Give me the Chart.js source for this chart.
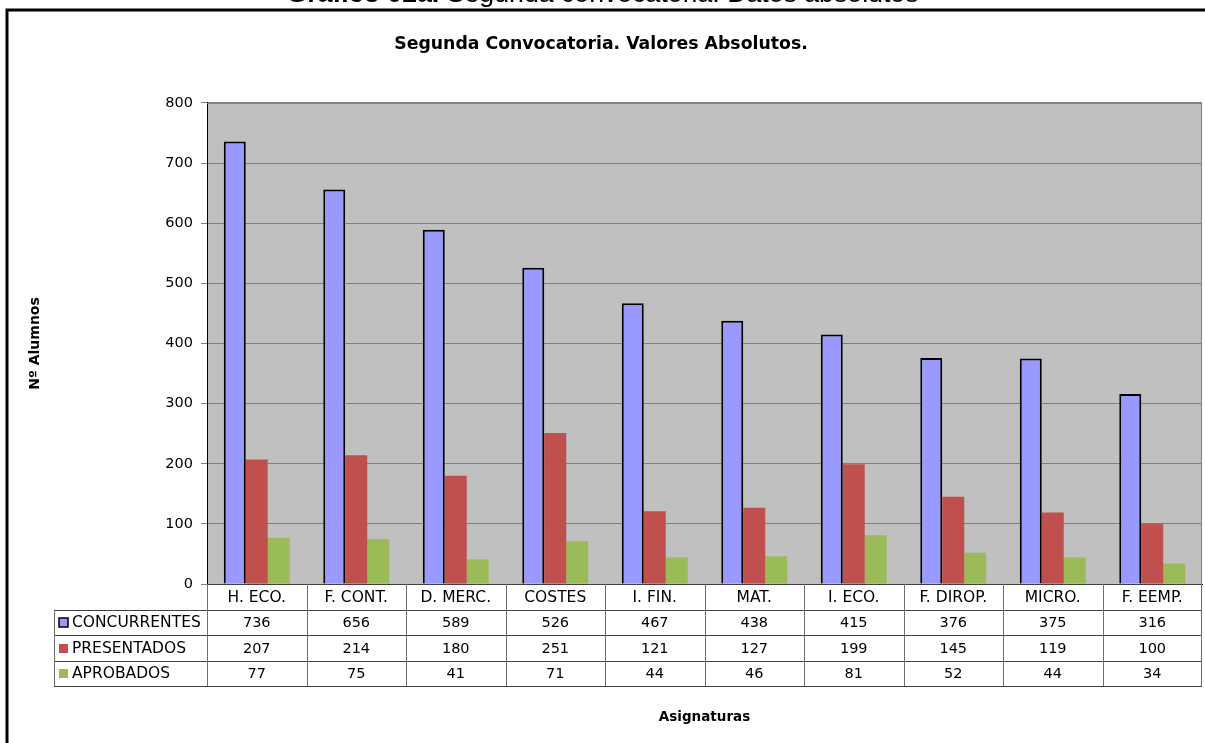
<!DOCTYPE html>
<html>
<head>
<meta charset="utf-8">
<script src="https://cdn.jsdelivr.net/npm/chart.js@4/dist/chart.umd.min.js"></script>
<style>
  body { margin: 0; background: #fff; overflow: hidden; }
  #wrap { position: relative; width: 1205px; height: 743px; overflow: hidden; }
  #caption {
    position: absolute; top: -20px; left: 0; width: 1205px; text-align: center;
    font-family: "Liberation Sans", Arial, sans-serif; font-size: 26.7px; line-height: 26px; color: #000;
    z-index: 2; white-space: nowrap;
  }
  canvas { position: absolute; left: 0; top: 0; }
</style>
</head>
<body>
<div id="wrap">
  <div id="caption"><b>Gráfico 02a.</b> Segunda convocatoria: Datos absolutos</div>
  <canvas id="grafico" width="1205" height="743"></canvas>
</div>
<script>
// datos
var asignaturas = ['H. ECO.', 'F. CONT.', 'D. MERC.', 'COSTES', 'I. FIN.', 'MAT.', 'I. ECO.', 'F. DIROP.', 'MICRO.', 'F. EEMP.'];
var concurrentes = [736, 656, 589, 526, 467, 438, 415, 376, 375, 316];
var presentados = [207, 214, 180, 251, 121, 127, 199, 145, 119, 100];
var aprobados = [77, 75, 41, 71, 44, 46, 81, 52, 44, 34];
var ticksY = [0, 100, 200, 300, 400, 500, 600, 700, 800];

var fuente = '"DejaVu Sans", sans-serif';

// fondo gris del area de trazado + marco exterior
var fondoPlugin = {
  id: 'fondo',
  beforeDraw: function (chart) {
    var c = chart.ctx, a = chart.chartArea;
    c.save();
    c.fillStyle = '#fff';
    c.fillRect(0, 0, chart.width, chart.height);
    c.fillStyle = '#C0C0C0';
    c.fillRect(a.left, a.top, a.right - a.left, a.bottom - a.top);
    c.strokeStyle = '#000';
    c.lineWidth = 3;
    c.beginPath();
    c.moveTo(7, chart.height);
    c.lineTo(7, 10);
    c.lineTo(chart.width, 10);
    c.stroke();
    c.restore();
  },
  afterDraw: function (chart) {
    var c = chart.ctx, a = chart.chartArea;
    c.save();
    c.strokeStyle = '#808080';
    c.lineWidth = 1;
    c.beginPath();
    c.moveTo(a.left, a.top + 0.5);
    c.lineTo(a.right - 0.5, a.top + 0.5);
    c.lineTo(a.right - 0.5, a.bottom);
    c.stroke();
    c.restore();
  }
};

// tabla de datos bajo el grafico
var tablaPlugin = {
  id: 'tabla',
  afterDraw: function (chart) {
    var c = chart.ctx, x = chart.scales.x, a = chart.chartArea;
    var n = asignaturas.length;
    var ancho = (a.right - a.left) / n;
    var top = a.bottom, fila = 25.5;
    var izq = 54;
    var series = chart.data.datasets;
    c.save();
    c.lineWidth = 1;
    // horizontales
    c.strokeStyle = '#404040';
    c.beginPath();
    c.moveTo(a.left, top + 0.5); c.lineTo(a.right, top + 0.5);
    for (var r = 1; r <= 4; r++) {
      var y = Math.round(top + r * fila) + 0.5;
      c.moveTo(izq, y); c.lineTo(a.right, y);
    }
    c.stroke();
    // verticales
    c.strokeStyle = '#707070';
    c.beginPath();
    c.moveTo(izq + 0.5, top + fila); c.lineTo(izq + 0.5, top + 4 * fila);
    for (var i = 0; i <= n; i++) {
      var xv = Math.round(a.left + i * ancho) + (i === n ? -0.5 : 0.5);
      c.moveTo(xv, top); c.lineTo(xv, top + 4 * fila);
    }
    c.stroke();

    c.fillStyle = '#000';
    c.textBaseline = 'middle';
    c.textAlign = 'center';
    for (var i = 0; i < n; i++) {
      var cx = x.getPixelForValue(i);
      c.font = '15.5px ' + fuente;
      c.fillText(asignaturas[i], cx, top + fila / 2 + 1);
      c.font = '14.5px ' + fuente;
      for (var s = 0; s < series.length; s++) {
        c.fillText(series[s].data[i], cx, top + (s + 1.5) * fila + 1);
      }
    }
    c.textAlign = 'left';
    c.font = '15.5px ' + fuente;
    for (var s = 0; s < series.length; s++) {
      var yc = top + (s + 1.5) * fila;
      c.fillStyle = series[s].backgroundColor;
      c.fillRect(59, Math.round(yc) - 4, 9, 9);
      if (s === 0) {
        c.strokeStyle = '#000';
        c.lineWidth = 1.5;
        c.strokeRect(59, Math.round(yc) - 4, 9, 9);
      }
      c.fillStyle = '#000';
      c.fillText(series[s].label, 72, yc + 1);
    }
    c.restore();
  }
};

var ctx = document.getElementById('grafico').getContext('2d');

var data = {
  labels: asignaturas,
  datasets: [{
    label: 'CONCURRENTES',
    data: concurrentes,
    backgroundColor: '#9999FF',
    borderColor: '#000',
    borderWidth: 2
  }, {
    label: 'PRESENTADOS',
    data: presentados,
    backgroundColor: '#C0504D'
  }, {
    label: 'APROBADOS',
    data: aprobados,
    backgroundColor: '#9BBB59'
  }]
};

var options = {
  responsive: false,
  animation: false,
  layout: { padding: { left: 0, right: 3, top: 0, bottom: 0 } },
  datasets: { bar: { categoryPercentage: 0.663, barPercentage: 1 } },
  plugins: {
    legend: { display: false },
    tooltip: { enabled: false },
    title: {
      display: true,
      text: 'Segunda Convocatoria. Valores Absolutos.',
      color: '#000',
      font: { family: fuente, size: 17.3, weight: 'bold', lineHeight: 1.2 },
      padding: { top: 34.6, bottom: 47.6 }
    }
  },
  scales: {
    x: {
      ticks: { display: false },
      grid: { display: false, drawTicks: false },
      border: { color: '#000', width: 1 },
      title: {
        display: true,
        text: 'Asignaturas',
        color: '#000',
        font: { family: fuente, size: 13.5, weight: 'bold', lineHeight: 1.2 },
        padding: { top: 0, bottom: 17 }
      },
      afterFit: function (scale) { scale.height = 159; }
    },
    y: {
      min: 0,
      max: 800,
      afterBuildTicks: function (scale) {
        scale.ticks = ticksY.map(function (v) { return { value: v }; });
      },
      ticks: { color: '#000', padding: 8, font: { family: fuente, size: 14.5 } },
      grid: { color: '#808080', tickColor: '#808080', tickLength: 6 },
      border: { color: '#000', width: 1 },
      title: {
        display: true,
        text: 'Nº Alumnos',
        color: '#000',
        font: { family: fuente, size: 14, weight: 'bold', lineHeight: 1.2 },
        padding: { top: 27, bottom: 0 }
      },
      afterFit: function (scale) { scale.width = 207; }
    }
  }
};

var grafico = new Chart(ctx, {
  type: 'bar',
  data: data,
  options: options,
  plugins: [fondoPlugin, tablaPlugin]
});
</script>
</body>
</html>
